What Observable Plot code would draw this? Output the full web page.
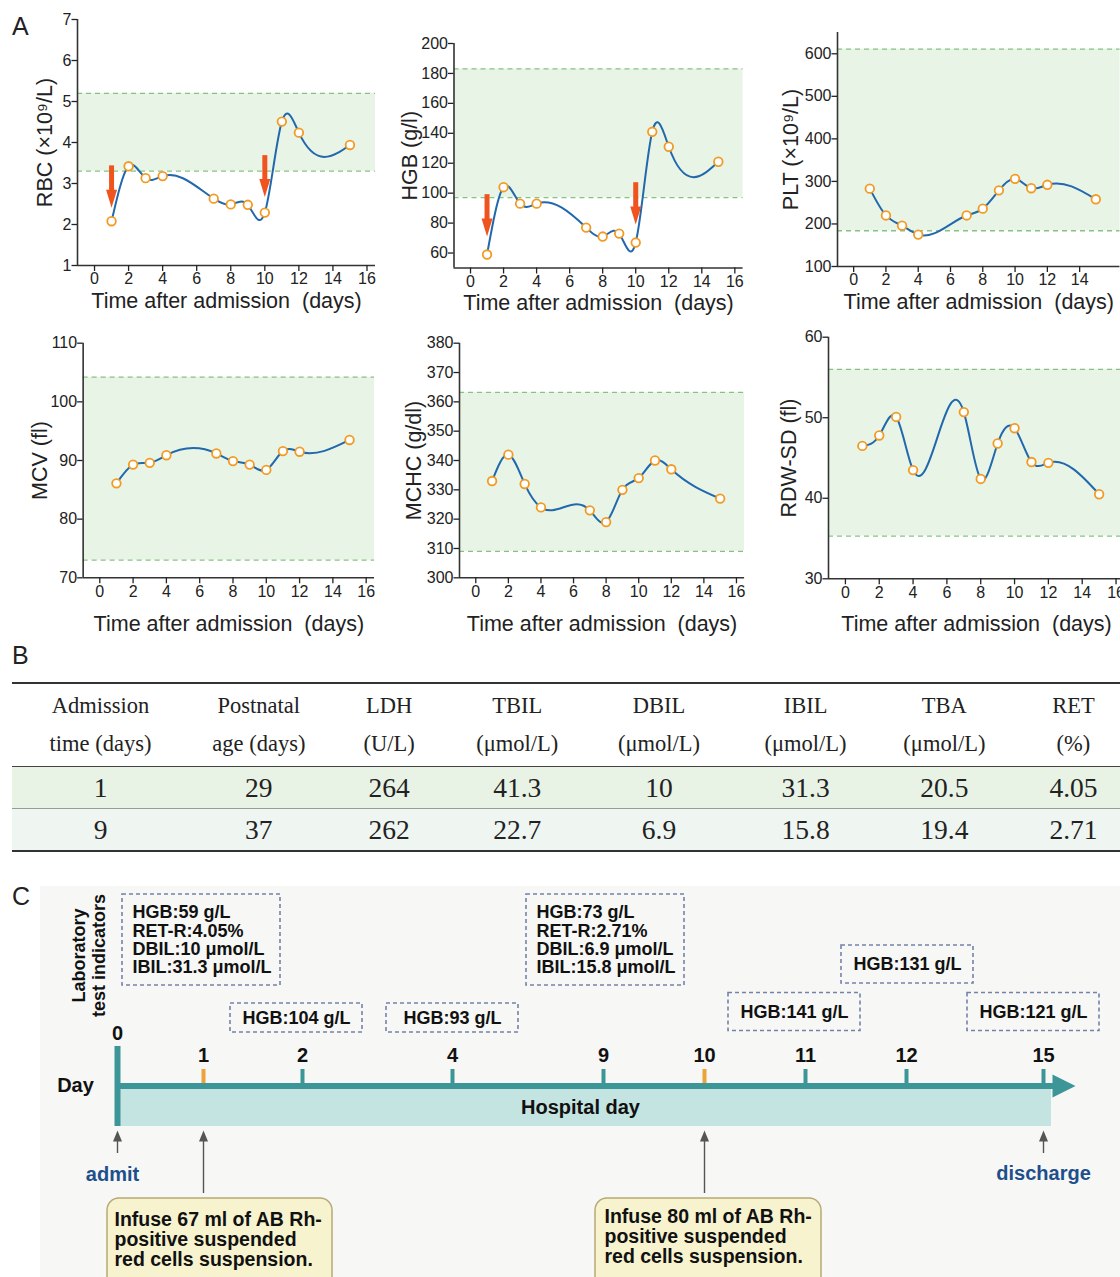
<!DOCTYPE html>
<html>
<head>
<meta charset="utf-8">
<script src="https://cdn.jsdelivr.net/npm/d3@7"></script>
<script src="https://cdn.jsdelivr.net/npm/@observablehq/plot@0.6"></script>
<style>
  body { margin: 0; background: #fff; }
  #page { position: relative; width: 1120px; height: 1277px; overflow: hidden; background: #fff;
          font-family: "Liberation Sans", Arial, sans-serif; color: #222; }
  .plabel { position: absolute; font-size: 25px; line-height: 25px; color: #222; }
  #bgC { position: absolute; left: 40px; top: 886px; right: 0; bottom: 0; background: #f7f7f6; }
  #tbl { position: absolute; left: 12px; top: 682px; width: 1124px; border-collapse: collapse; table-layout: fixed;
         font-family: "Liberation Serif", "Times New Roman", serif; color: #222; }
  #tbl th { font-weight: normal; font-size: 22.5px; line-height: 38.5px; height: 82px; padding: 0; text-align: center; vertical-align: middle; }
  #tbl td { font-size: 27.5px; height: 41px; padding: 0; text-align: center; vertical-align: middle; }
  #tbl thead tr { border-top: 2.5px solid #333; border-bottom: 1.5px solid #444; }
  #tbl tbody tr.r0 { background: #e8f3e6; border-bottom: 1px solid #9a9a9a; }
  #tbl tbody tr.r1 { background: #eff5f1; border-bottom: 2.5px solid #333; }
</style>
</head>
<body>
<div id="page">
  <div id="bgC"></div>
  <div class="plabel" style="left:12px;top:14px;">A</div>
  <div class="plabel" style="left:12px;top:643px;">B</div>
  <div class="plabel" style="left:12px;top:884px;">C</div>
</div>
<script>
// ---------------- data ----------------
const days = [1, 2, 3, 4, 7, 8, 9, 10, 11, 12, 15];
const rbc  = [2.08, 3.42, 3.13, 3.18, 2.63, 2.49, 2.48, 2.29, 4.51, 4.24, 3.94];
const hgb  = [59, 104, 93, 93, 77, 71, 73, 67, 141, 131, 121];
const plt  = [283, 220, 196, 175, 220, 236, 279, 306, 284, 292, 258];
const mcv  = [86.1, 89.3, 89.6, 90.9, 91.2, 89.9, 89.3, 88.4, 91.6, 91.5, 93.5];
const mchc = [333, 342, 332, 324, 323, 319, 330, 334, 340, 337, 327];
const rdw  = [46.5, 47.8, 50.1, 43.5, 50.7, 42.4, 46.8, 48.7, 44.5, 44.4, 40.5];

// reference ranges (lower, upper)
const rbcRef  = [3.3, 5.2];
const hgbRef  = [97, 183];
const pltRef  = [184, 611];
const mcvRef  = [73, 104.2];
const mchcRef = [309, 363.2];
const rdwRef  = [35.3, 56];

// transfusion arrows (days and value span of each arrow)
const infusionDays = [1, 10];
const infusionVolumes = [67, 80];
const rbcArrowTop = [3.43, 3.68];
const rbcArrowTip = [2.41, 2.67];
const hgbArrowTop = [99, 107];
const hgbArrowTip = [71, 79];

// axis ticks
const xTicks16 = [0, 2, 4, 6, 8, 10, 12, 14, 16];
const xTicks14 = [0, 2, 4, 6, 8, 10, 12, 14];
const rbcTicks  = [1, 2, 3, 4, 5, 6, 7];
const hgbTicks  = [60, 80, 100, 120, 140, 160, 180, 200];
const pltTicks  = [100, 200, 300, 400, 500, 600];
const mcvTicks  = [70, 80, 90, 100, 110];
const mchcTicks = [300, 310, 320, 330, 340, 350, 360, 370, 380];
const rdwTicks  = [30, 40, 50, 60];
const xTitle = "Time after admission\u00a0 (days)";

// table B
const tableHeaders = [["Admission", "time (days)"], ["Postnatal", "age (days)"], ["LDH", "(U/L)"], ["TBIL", "(\u03bcmol/L)"],
                      ["DBIL", "(\u03bcmol/L)"], ["IBIL", "(\u03bcmol/L)"], ["TBA", "(\u03bcmol/L)"], ["RET", "(%)"]];
const tableRows = [[1, 29, 264, 41.3, 10, 31.3, 20.5, 4.05],
                   [9, 37, 262, 22.7, 6.9, 15.8, 19.4, 2.71]];

// timeline C
const tlDays = [0, 1, 2, 4, 9, 10, 11, 12, 15];
const labBoxDays = [1, 2, 4, 9, 11, 12, 15];
const labBoxLane = [0, 1, 1, 0, 2, 3, 2];

// ---------------- helpers ----------------
const page = document.getElementById("page");
const baseStyle = {fontFamily: "'Liberation Sans', Arial, sans-serif", color: "#222", background: "transparent", overflow: "visible"};

// cubic spline as a function of x (natural end conditions), as a d3 curve factory for Plot.line
function curveSplineX(context) {
  let xs, ys;
  return {
    areaStart() {}, areaEnd() {},
    lineStart() { xs = []; ys = []; },
    point(x, y) { xs.push(+x); ys.push(+y); },
    lineEnd() {
      const n = xs.length;
      if (!n) return;
      context.moveTo(xs[0], ys[0]);
      if (n === 1) return;
      if (n === 2) { context.lineTo(xs[1], ys[1]); return; }
      const h = [];
      for (let i = 0; i < n - 1; i++) h.push(xs[i + 1] - xs[i]);
      const a = [], b = [], c = [], r = [];
      for (let i = 1; i < n - 1; i++) {
        a.push(h[i - 1]); b.push(2 * (h[i - 1] + h[i])); c.push(h[i]);
        r.push(6 * ((ys[i + 1] - ys[i]) / h[i] - (ys[i] - ys[i - 1]) / h[i - 1]));
      }
      const m = b.length;
      for (let i = 1; i < m; i++) { const w = a[i] / b[i - 1]; b[i] -= w * c[i - 1]; r[i] -= w * r[i - 1]; }
      const sol = new Array(m);
      sol[m - 1] = r[m - 1] / b[m - 1];
      for (let i = m - 2; i >= 0; i--) sol[i] = (r[i] - c[i] * sol[i + 1]) / b[i];
      const M = [0, ...sol, 0];
      for (let i = 0; i < n - 1; i++) {
        const hi = h[i], s = (ys[i + 1] - ys[i]) / hi;
        const d0 = s - hi * (2 * M[i] + M[i + 1]) / 6;
        const d1 = s + hi * (M[i] + 2 * M[i + 1]) / 6;
        context.bezierCurveTo(xs[i] + hi / 3, ys[i] + d0 * hi / 3, xs[i + 1] - hi / 3, ys[i + 1] - d1 * hi / 3, xs[i + 1], ys[i + 1]);
      }
    }
  };
}

// ---------------- panel A ----------------
function chart(o) {
  const data = days.map((d, i) => ({day: d, v: o.values[i]}));
  const xd = [-1, 16.5];
  const marks = [
    Plot.rect([o.ref], {x1: () => xd[0], x2: () => xd[1], y1: d => d[0], y2: d => d[1], fill: "#e8f4e6"}),
    Plot.ruleY(o.ref, {x1: () => xd[0], x2: () => xd[1], stroke: "#86c383", strokeWidth: 1.3, strokeDasharray: "5,4"}),
    Plot.ruleX([xd[0]], {stroke: "#333", strokeWidth: 1.6}),
    Plot.ruleY([o.yDomain[0]], {stroke: "#333", strokeWidth: 1.6}),
    Plot.axisY({ticks: o.yTicks, tickFormat: d => String(d), tickSize: 5.5, tickPadding: 0.5, fontSize: 16, label: null, strokeWidth: 1.3}),
    Plot.axisX({ticks: o.xTicks, tickFormat: d => String(d), tickSize: 6, tickPadding: 1.5, fontSize: 16, label: null, strokeWidth: 1.3}),
    Plot.line(data, {x: "day", y: "v", curve: curveSplineX, stroke: "#2268ad", strokeWidth: 2}),
    Plot.dot(data, {x: "day", y: "v", r: 4.3, fill: "white", stroke: "#f29b24", strokeWidth: 1.8}),
    Plot.text([o.label], {frameAnchor: "left", textAnchor: "middle", lineAnchor: "middle", rotate: -90, dx: o.labelDx, fontSize: 21.5}),
    Plot.text([xTitle], {frameAnchor: "bottom", textAnchor: "middle", lineAnchor: "middle", dy: o.titleDy, fontSize: 21.5})
  ];
  if (o.arrowTop) {
    const arr = infusionDays.map((d, i) => ({day: d, top: o.arrowTop[i], tip: o.arrowTip[i]}));
    marks.push(
      Plot.ruleX(arr, {x: "day", y1: "top", y2: "tip", insetBottom: 12, stroke: "#f0541e", strokeWidth: 5}),
      Plot.vector(arr, {x: "day", y: "tip", length: 18, r: 5.5, rotate: 180, anchor: "end", shape: "spike", fill: "#f0541e", stroke: "none"})
    );
  }
  const p = Plot.plot({
    width: o.w, height: o.h,
    marginLeft: o.mL, marginRight: o.mR, marginTop: o.mT, marginBottom: o.mB,
    x: {domain: xd}, y: {domain: o.yDomain},
    style: baseStyle,
    marks
  });
  p.style.position = "absolute";
  p.style.left = o.left + "px";
  p.style.top = o.top + "px";
  page.appendChild(p);
}

chart({values: rbc, ref: rbcRef, yDomain: [1, 7], yTicks: rbcTicks, xTicks: xTicks16, label: "RBC (\u00d710\u2079/L)",
       left: 0, top: 0, w: 380, h: 320, mL: 77, mR: 5, mT: 19, mB: 55, labelDx: -32, titleDy: 36,
       arrowTop: rbcArrowTop, arrowTip: rbcArrowTip});
chart({values: hgb, ref: hgbRef, yDomain: [50, 200], yTicks: hgbTicks, xTicks: xTicks16, label: "HGB (g/l)",
       left: 380, top: 0, w: 370, h: 320, mL: 73.5, mR: 7.4, mT: 43, mB: 52.5, labelDx: -44, titleDy: 35.5,
       arrowTop: hgbArrowTop, arrowTip: hgbArrowTip});
chart({values: plt, ref: pltRef, yDomain: [100, 650], yTicks: pltTicks, xTicks: xTicks14, label: "PLT (\u00d710\u2079/L)",
       left: 750, top: 0, w: 370, h: 320, mL: 87, mR: 0.5, mT: 32, mB: 54, labelDx: -46, titleDy: 36});
chart({values: mcv, ref: mcvRef, yDomain: [70, 110], yTicks: mcvTicks, xTicks: xTicks16, label: "MCV (fl)",
       left: 0, top: 320, w: 380, h: 320, mL: 82.65, mR: 6, mT: 22.7, mB: 62.7, labelDx: -43, titleDy: 46});
chart({values: mchc, ref: mchcRef, yDomain: [300, 380], yTicks: mchcTicks, xTicks: xTicks16, label: "MCHC (g/dl)",
       left: 380, top: 320, w: 370, h: 320, mL: 79, mR: 5.9, mT: 22.7, mB: 62.7, labelDx: -45, titleDy: 46.5});
chart({values: rdw, ref: rdwRef, yDomain: [30, 60], yTicks: rdwTicks, xTicks: xTicks16, label: "RDW-SD (fl)",
       left: 750, top: 320, w: 374, h: 320, mL: 78, mR: 0, mT: 16.7, mB: 61.7, labelDx: -39, titleDy: 45.5});

// ---------------- panel B (table) ----------------
const colWidths = [177, 139.5, 121, 135, 148.5, 144.5, 133, 125];
const tbl = document.createElement("table");
tbl.id = "tbl";
const cg = document.createElement("colgroup");
colWidths.forEach(w => { const c = document.createElement("col"); c.style.width = w + "px"; cg.appendChild(c); });
tbl.appendChild(cg);
const thead = document.createElement("thead");
const hr = document.createElement("tr");
tableHeaders.forEach(h => { const th = document.createElement("th"); th.innerHTML = h[0] + "<br>" + h[1]; hr.appendChild(th); });
thead.appendChild(hr); tbl.appendChild(thead);
const tbody = document.createElement("tbody");
tableRows.forEach((r, i) => {
  const tr = document.createElement("tr"); tr.className = "r" + i;
  r.forEach(v => { const td = document.createElement("td"); td.textContent = String(v); tr.appendChild(td); });
  tbody.appendChild(tr);
});
tbl.appendChild(tbody);
page.appendChild(tbl);

// ---------------- panel C (timeline) ----------------
const teal = "#3c9597", orange = "#eba43a", boxStroke = "#7482a8";
// non-uniform layout of the hospital-day axis (piecewise scale)
const tx = d3.scaleLinear().domain(tlDays).range([117, 203, 302, 452, 603, 704, 805, 906, 1043]);
const laneCenter = [69.5, 147.5, 141.5, 94];
const laneHeight = [91, 29, 38, 38];
const boxShift = [-2, -6, 0, 2, -11, 1, -10];   // horizontal nudges of the annotation boxes (layout)
const labBoxes = labBoxDays.map((d, i) => {
  const v = hgb[days.indexOf(d)];
  const row = tableRows.find(r => r[0] === d);
  const lines = [`HGB:${v} g/L`];
  if (row) lines.push(`RET-R:${row[7]}%`, `DBIL:${row[4]} \u03bcmol/L`, `IBIL:${row[5]} \u03bcmol/L`);
  return {day: d, lines, shift: boxShift[i], y: laneCenter[labBoxLane[i]], h: laneHeight[labBoxLane[i]]};
});
const multiBoxes = labBoxes.filter(b => b.lines.length > 1);
const singleBoxes = labBoxes.filter(b => b.lines.length === 1);
const events = [{day: 0, y0: 283}, {day: infusionDays[0], y0: 323}, {day: infusionDays[1], y0: 323}, {day: 15, y0: 283}];
const infuseText = v => `Infuse ${v} ml of AB Rh-\npositive suspended\nred cells suspension.`;
const tickDays = tlDays.filter(d => d > 0);
const bold = {fontWeight: "bold"};
const X = d => tx(d);
const BX = b => tx(b.day) + b.shift;

const tl = Plot.plot({
  width: 1120, height: 407, marginLeft: 0, marginRight: 0, marginTop: 0, marginBottom: 0,
  x: {type: "identity"}, y: {type: "identity"},
  style: {...baseStyle, color: "#111"},
  marks: [
    // dashed laboratory boxes
    Plot.rect(multiBoxes, {x1: BX, x2: BX, y1: d => d.y - d.h / 2, y2: d => d.y + d.h / 2, insetLeft: -79, insetRight: -79,
                           fill: "none", stroke: boxStroke, strokeWidth: 1.6, strokeDasharray: "4,3"}),
    Plot.rect(singleBoxes, {x1: BX, x2: BX, y1: d => d.y - d.h / 2, y2: d => d.y + d.h / 2, insetLeft: -66, insetRight: -66,
                            fill: "none", stroke: boxStroke, strokeWidth: 1.6, strokeDasharray: "4,3"}),
    Plot.text(multiBoxes, {x: BX, y: "y", text: d => d.lines.join("\n"), textAnchor: "start", dx: -69, lineHeight: 1.02, fontSize: 18, ...bold}),
    Plot.text(singleBoxes, {x: BX, y: "y", text: d => d.lines[0], fontSize: 18, ...bold}),
    Plot.text(["Laboratory\ntest indicators"], {x: () => X(0), y: () => 85, dx: -29, rotate: -90, lineHeight: 1.1, fontSize: 18, ...bold}),
    // hospital day band and axis
    Plot.rect([0], {x1: () => X(0), x2: () => X(15), y1: () => 219, y2: () => 256, insetRight: -8, fill: "#c4e4e1"}),
    Plot.ruleY([215.5], {x1: () => X(0), x2: () => X(15), insetRight: -10, stroke: teal, strokeWidth: 6}),
    Plot.vector([15], {x: d => X(d), y: () => 215.5, dx: 9, rotate: 90, length: 23, r: 11.5, anchor: "start", shape: "spike", fill: teal, stroke: "none"}),
    Plot.ruleX([0], {x: d => X(d), y1: () => 176, y2: () => 256, stroke: teal, strokeWidth: 6}),
    Plot.ruleX(tickDays.filter(d => !infusionDays.includes(d)), {x: d => X(d), y1: () => 199, y2: () => 213, stroke: teal, strokeWidth: 4}),
    Plot.ruleX(infusionDays, {x: d => X(d), y1: () => 199, y2: () => 213, stroke: orange, strokeWidth: 4}),
    Plot.text(tlDays, {x: d => X(d), y: d => d === 0 ? 163 : 185, text: d => String(d), fontSize: 20, ...bold}),
    Plot.text(["Day"], {x: () => X(0), y: () => 215, dx: -42, fontSize: 20, ...bold}),
    Plot.text(["Hospital day"], {x: () => (X(0) + X(15)) / 2, y: () => 237, fontSize: 20, ...bold}),
    // event arrows
    Plot.ruleX(events, {x: d => X(d.day), y1: "y0", y2: () => 264, stroke: "#555", strokeWidth: 1.4}),
    Plot.vector(events, {x: d => X(d.day), y: () => 260, length: 11, r: 4.5, anchor: "end", shape: "spike", fill: "#555", stroke: "none"}),
    Plot.text(["admit"], {x: () => X(0), y: () => 304, dx: -5, fill: "#1d4f8b", fontSize: 20, ...bold}),
    Plot.text(["discharge"], {x: () => X(15), y: () => 303, fill: "#1d4f8b", fontSize: 20, ...bold}),
    // infusion callouts
    Plot.rect([infusionDays[0]], {x1: d => X(d), x2: d => X(d), y1: () => 328, y2: () => 450, insetLeft: -96, insetRight: -129, rx: 12,
                                  fill: "#f7f3cf", stroke: "#b6aa74", strokeWidth: 1.5}),
    Plot.rect([infusionDays[1]], {x1: d => X(d), x2: d => X(d), y1: () => 328, y2: () => 450, insetLeft: -109, insetRight: -117, rx: 12,
                                  fill: "#f7f3cf", stroke: "#b6aa74", strokeWidth: 1.5}),
    Plot.text([infusionDays[0]], {x: d => X(d), y: () => 369, dx: -89, text: () => infuseText(infusionVolumes[0]), textAnchor: "start",
                                  lineHeight: 1.03, fontSize: 19.5, ...bold}),
    Plot.text([infusionDays[1]], {x: d => X(d), y: () => 366, dx: -100, text: () => infuseText(infusionVolumes[1]), textAnchor: "start",
                                  lineHeight: 1.03, fontSize: 19.5, ...bold})
  ]
});
tl.style.position = "absolute";
tl.style.left = "0px";
tl.style.top = "870px";
page.appendChild(tl);
</script>
</body>
</html>
